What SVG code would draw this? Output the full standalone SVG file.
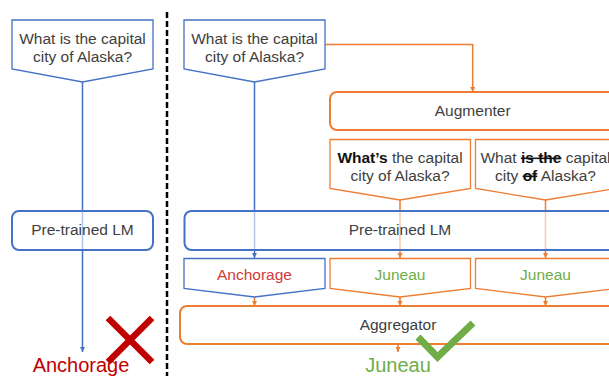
<svg xmlns="http://www.w3.org/2000/svg" width="609" height="376" viewBox="0 0 609 376">
<defs>
<style>
.t{font-family:"Liberation Sans",Arial,sans-serif;font-size:15.5px;fill:#404040;text-anchor:middle}
.big{font-family:"Liberation Sans",Arial,sans-serif;font-size:20px;text-anchor:middle}
.qb{fill:#fff;stroke:#4472C4;stroke-width:1.3}
.qo{fill:#fff;stroke:#ED7D31;stroke-width:1.3}
.lmb{fill:#fff;fill-opacity:0.6;stroke:#4472C4;stroke-width:2}
.ob{fill:#fff;stroke:#ED7D31;stroke-width:2}
.cb{fill:none;stroke:#4472C4;stroke-width:1.5}
.co{fill:none;stroke:#ED7D31;stroke-width:1.5}
.s{text-decoration:line-through;font-weight:bold;fill:#111}
</style>
<marker id="ab" viewBox="0 0 10 10" refX="10" refY="5" markerWidth="3.6" markerHeight="3.6" orient="auto" markerUnits="strokeWidth"><path d="M0,0 L10,5 L0,10 z" fill="#4472C4"/></marker>
<marker id="ao" viewBox="0 0 10 10" refX="10" refY="5" markerWidth="3.6" markerHeight="3.6" orient="auto" markerUnits="strokeWidth"><path d="M0,0 L10,5 L0,10 z" fill="#ED7D31"/></marker>
</defs>
<rect width="609" height="376" fill="#fff"/>
<line x1="167" y1="12" x2="167" y2="376" stroke="#000" stroke-width="2.5" stroke-dasharray="6 3"/>
<g id="connectors">
<line class="cb" x1="82.5" y1="82" x2="82.5" y2="352" marker-end="url(#ab)"/>
<line class="cb" x1="254.5" y1="82" x2="254.5" y2="258" marker-end="url(#ab)"/>
<polyline class="co" points="325,44.5 472.7,44.5 472.7,92" marker-end="url(#ao)"/>
<line class="co" x1="400" y1="200" x2="400" y2="258" marker-end="url(#ao)"/>
<line class="co" x1="545.5" y1="200" x2="545.5" y2="258" marker-end="url(#ao)"/>
<line class="co" x1="254.5" y1="297" x2="254.5" y2="306" marker-end="url(#ao)"/>
<line class="co" x1="400" y1="297" x2="400" y2="306" marker-end="url(#ao)"/>
<line class="co" x1="545.5" y1="297" x2="545.5" y2="306" marker-end="url(#ao)"/>
<line class="co" x1="398" y1="344" x2="398" y2="352" marker-end="url(#ao)"/>
</g>
<g id="q-left">
<polygon class="qb" points="12,20 153,20 153,69 82.5,82 12,69"/>
<text class="t" x="82.5" y="44">What is the capital</text>
<text class="t" x="82.5" y="62">city of Alaska?</text>
</g>
<g id="lm-left">
<rect class="lmb" x="12" y="211" width="141" height="39" rx="7"/>
<text class="t" x="82.5" y="235">Pre-trained LM</text>
</g>
<g id="ans-left">
<text class="big" x="81" y="371.5" fill="#C00000">Anchorage</text>
<path d="M108,318 L152,362 M152,318 L108,362" stroke="#C00000" stroke-width="6.5" fill="none"/>
</g>
<g id="q-right">
<polygon class="qb" points="184,20 325,20 325,69 254.5,82 184,69"/>
<text class="t" x="254.5" y="44">What is the capital</text>
<text class="t" x="254.5" y="62">city of Alaska?</text>
</g>
<g id="augmenter">
<rect class="ob" x="330" y="92" width="300" height="38" rx="7"/>
<text class="t" x="472.7" y="116">Augmenter</text>
</g>
<g id="aug1">
<polygon class="qo" points="330,139.5 470.5,139.5 470.5,188.5 400,200 330,188.5"/>
<text class="t" x="400" y="163"><tspan font-weight="bold" fill="#111">What’s</tspan> the capital</text>
<text class="t" x="400" y="181">city of Alaska?</text>
</g>
<g id="aug2">
<polygon class="qo" points="475.5,139.5 616,139.5 616,188.5 545.5,200 475.5,188.5"/>
<text class="t" x="545.5" y="163">What <tspan class="s">is the</tspan> capital</text>
<text class="t" x="545.5" y="181">city <tspan class="s">of</tspan> Alaska?</text>
</g>
<g id="lm-right">
<rect class="lmb" x="184.5" y="211" width="431" height="39" rx="7"/>
<text class="t" x="400" y="235">Pre-trained LM</text>
</g>
<g id="a1">
<polygon class="qb" points="184,258.5 325,258.5 325,288.5 254.5,297 184,288.5"/>
<text class="t" x="254.5" y="280" style="fill:#D03A3A">Anchorage</text>
</g>
<g id="a2">
<polygon class="qo" points="330,258.5 470.5,258.5 470.5,288.5 400,297 330,288.5"/>
<text class="t" x="400" y="280" style="fill:#70AD47">Juneau</text>
</g>
<g id="a3">
<polygon class="qo" points="475.5,258.5 616,258.5 616,288.5 545.5,297 475.5,288.5"/>
<text class="t" x="545.5" y="280" style="fill:#70AD47">Juneau</text>
</g>
<g id="aggregator">
<rect class="ob" x="180" y="306" width="440" height="38" rx="7"/>
<text class="t" x="398" y="330">Aggregator</text>
</g>
<g id="final">
<text class="big" x="398" y="371.5" fill="#70AD47">Juneau</text>
<polyline points="418,337 437.5,357 473,323" fill="none" stroke="#70AD47" stroke-width="7"/>
</g>
</svg>
